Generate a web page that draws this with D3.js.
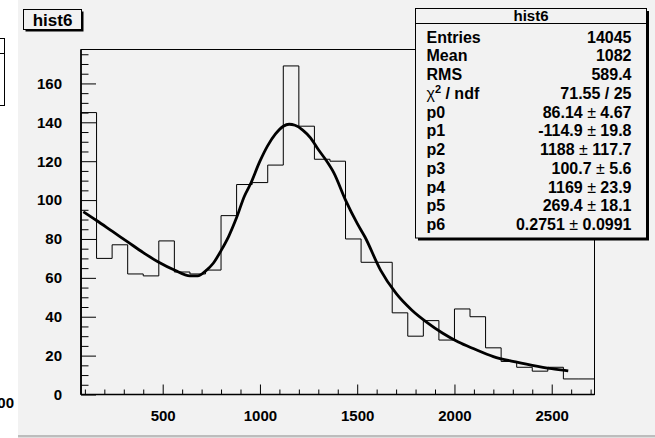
<!DOCTYPE html>
<html>
<head>
<meta charset="utf-8">
<script src="https://cdn.jsdelivr.net/npm/d3@7"></script>
<style>
  html, body { margin: 0; padding: 0; background: #ffffff; }
  svg { display: block; font-family: "Liberation Sans", Arial, Helvetica, sans-serif; }
</style>
</head>
<body>
<svg id="chart" width="655" height="438"></svg>
<script>
// ---------- data ----------
const binEdges = [80,160,240,320,400,480,560,640,720,800,880,960,1040,1120,1200,1280,1360,1440,1520,1600,1680,1760,1840,1920,2000,2080,2160,2240,2320,2400,2480,2560,2640,2720];
const counts = [145,70,77,62,61,79,63,62,64,92,108,109,118,169,138,121,120,80,68,68,42,30,38,28,44,40,24,17,14,12,14,8,8];
const fitX = [92,160,240,320,400,480,560,640,680,720,760,800,840,880,920,950,1000,1040,1080,1120,1150,1180,1220,1260,1300,1340,1380,1440,1500,1540,1620,1700,1780,1860,1940,2020,2100,2200,2300,2400,2500,2585];
const fitY = [94,89.5,84,78.5,73,68,64,61,61,63.5,67.5,74,81.5,91,102,108,120,128,134,138,139,138.5,136,132,126,120.5,114,100,88,81,64,52,43.5,37,31.5,27,23.5,19.5,17,15,13.3,12.2];
const xMajor = [500,1000,1500,2000,2500];
const yMajor = [0,20,40,60,80,100,120,140,160];
const statLabels = ["Entries","Mean","RMS","χ² / ndf","p0","p1","p2","p3","p4","p5","p6"];
const statValues = ["14045","1082","589.4","71.55 / 25","86.14 ± 4.67","-114.9 ± 19.8","1188 ± 117.7","100.7 ± 5.6","1169 ± 23.9","269.4 ± 18.1","0.2751 ± 0.0991"];
const histTitle = "hist6";

// ---------- setup ----------
const svg = d3.select("#chart");
const W = 655, H = 438;
const bg = "#f2f2f2";

// pad background
svg.append("rect").attr("x", 18).attr("y", 0).attr("width", W - 18).attr("height", 436).attr("fill", bg);
svg.append("rect").attr("x", 18).attr("y", 435).attr("width", W - 18).attr("height", 2.5).attr("fill", "#bdbdbd");

// remnants of neighbouring pad at the left edge
svg.append("rect").attr("x", -20).attr("y", 38.5).attr("width", 24.5).attr("height", 67)
  .attr("fill", "#ffffff").attr("stroke", "#000").attr("stroke-width", 1);
svg.append("line").attr("x1", -20).attr("x2", 4.5).attr("y1", 53.5).attr("y2", 53.5).attr("stroke", "#000");
svg.append("text").attr("x", 14).attr("y", 408).attr("text-anchor", "end")
  .attr("font-weight", "bold").attr("font-size", 15).text("00");

const x = d3.scaleLinear().domain([80, 2720]).range([81, 594.5]);
const y = d3.scaleLinear().domain([0, 177.45]).range([394.5, 49.5]);

// frame
svg.append("rect").attr("x", x(80)).attr("y", y(177.45)).attr("width", x(2720) - x(80)).attr("height", y(0) - y(177.45))
  .attr("fill", "none").attr("stroke", "#000").attr("stroke-width", 1);

// histogram outline
let d = `M${x(binEdges[0])},${y(0)}`;
counts.forEach((c, i) => {
  d += `V${y(c)}H${x(binEdges[i + 1])}`;
});
d += `V${y(0)}`;
svg.append("path").attr("d", d).attr("fill", "none").attr("stroke", "#000").attr("stroke-width", 1);

// fit curve
const line = d3.line().x((v, i) => x(fitX[i])).y(v => y(v)).curve(d3.curveMonotoneX);
svg.append("path").attr("d", line(fitY)).attr("fill", "none").attr("stroke", "#000")
  .attr("stroke-width", 2.8).attr("stroke-linecap", "butt");

// x axis
const xMinor = d3.range(100, 2701, 100).filter(v => v % 500 !== 0);
const gx = svg.append("g").attr("transform", `translate(0,${y(0)})`);
gx.call(d3.axisBottom(x).tickValues(xMinor).tickSize(-5).tickFormat(""));
gx.call(g => g.select(".domain").remove());
const gx2 = svg.append("g").attr("transform", `translate(0,${y(0)})`);
gx2.call(d3.axisBottom(x).tickValues(xMajor).tickSize(-10).tickPadding(16).tickFormat(d3.format("d")));
gx2.select(".domain").remove();
gx2.selectAll("text").attr("font-size", 15).attr("font-weight", "bold").attr("fill", "#000")
  .attr("font-family", "'Liberation Sans', Arial, sans-serif");

// y axis
const yMinor = d3.range(5, 176, 5).filter(v => v % 20 !== 0);
const gy = svg.append("g").attr("transform", `translate(${x(80)},0)`);
gy.call(d3.axisLeft(y).tickValues(yMinor).tickSize(-7.5).tickFormat(""));
gy.select(".domain").remove();
const gy2 = svg.append("g").attr("transform", `translate(${x(80)},0)`);
gy2.call(d3.axisLeft(y).tickValues(yMajor).tickSize(-15).tickPadding(19).tickFormat(d3.format("d")));
gy2.select(".domain").remove();
gy2.selectAll("text").attr("font-size", 15).attr("font-weight", "bold").attr("fill", "#000")
  .attr("font-family", "'Liberation Sans', Arial, sans-serif");
svg.selectAll(".tick line").attr("stroke", "#000").attr("stroke-width", 1);

// axis lines (thicker)
svg.append("line").attr("x1", x(80)).attr("x2", x(2720)).attr("y1", y(0)).attr("y2", y(0))
  .attr("stroke", "#000").attr("stroke-width", 1.6);
svg.append("line").attr("x1", x(80)).attr("x2", x(80)).attr("y1", y(0)).attr("y2", y(177.45))
  .attr("stroke", "#000").attr("stroke-width", 1.6);

// title box
const tb = { x: 23.5, y: 9.5, w: 58, h: 20 };
svg.append("rect").attr("x", tb.x + 2).attr("y", tb.y + 2).attr("width", tb.w).attr("height", tb.h).attr("fill", "#000");
svg.append("rect").attr("x", tb.x).attr("y", tb.y).attr("width", tb.w).attr("height", tb.h)
  .attr("fill", bg).attr("stroke", "#000").attr("stroke-width", 1);
svg.append("text").attr("x", tb.x + tb.w / 2).attr("y", tb.y + 16).attr("text-anchor", "middle")
  .attr("font-weight", "bold").attr("font-size", 17).text(histTitle);

// stats box
const sb = { x: 415.5, y: 8.5, w: 231, h: 229.5 };
svg.append("rect").attr("x", sb.x + 2.5).attr("y", sb.y + 2.5).attr("width", sb.w).attr("height", sb.h).attr("fill", "#000");
svg.append("rect").attr("x", sb.x).attr("y", sb.y).attr("width", sb.w).attr("height", sb.h)
  .attr("fill", bg).attr("stroke", "#000").attr("stroke-width", 1);
svg.append("line").attr("x1", sb.x).attr("x2", sb.x + sb.w).attr("y1", 23.5).attr("y2", 23.5)
  .attr("stroke", "#000").attr("stroke-width", 1);
svg.append("text").attr("x", sb.x + sb.w / 2).attr("y", 20.5).attr("text-anchor", "middle")
  .attr("font-size", 15).attr("font-weight", "bold").text(histTitle);

const rowY = i => 42.7 + i * 18.73;
statLabels.forEach((lab, i) => {
  const t = svg.append("text").attr("x", 426.5).attr("y", rowY(i)).attr("font-size", 16).attr("font-weight", "bold");
  if (lab.startsWith("χ")) {
    t.append("tspan").attr("font-weight", "normal").text("χ");
    t.append("tspan").attr("font-size", 11).attr("dy", -6).text("2");
    t.append("tspan").attr("dy", 6).text(" / ndf");
  } else {
    t.text(lab);
  }
});
statValues.forEach((val, i) => {
  const t = svg.append("text").attr("x", 631.5).attr("y", rowY(i)).attr("font-size", 16)
    .attr("font-weight", "bold").attr("text-anchor", "end");
  const parts = val.split("±");
  if (parts.length === 2) {
    t.append("tspan").text(parts[0].trim());
    t.append("tspan").attr("font-weight", "normal").text(" ± ");
    t.append("tspan").text(parts[1].trim());
  } else {
    t.text(val);
  }
});
</script>
</body>
</html>
